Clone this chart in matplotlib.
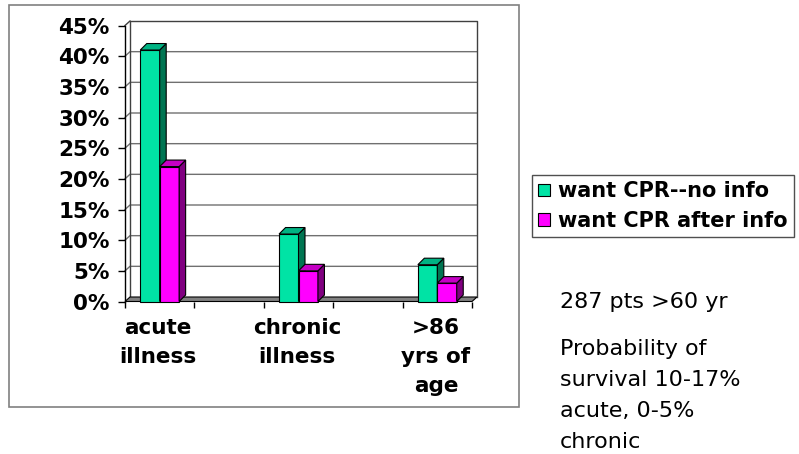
import matplotlib.pyplot as plt
from matplotlib.patches import Polygon, Patch, Rectangle

categories = ['acute\nillness', 'chronic\nillness', '>86\nyrs of\nage']
series_names = ['want CPR--no info', 'want CPR after info']
no_info = [41, 11, 6]
after_info = [22, 5, 3]
y_ticks = [0, 5, 10, 15, 20, 25, 30, 35, 40, 45]
notes_top = '287 pts >60 yr'
notes = ['Probability of', 'survival 10-17%', 'acute, 0-5%', 'chronic']

# face, top, side colours for each series
colors = [('#00E3A5', '#00B383', '#007552'),
          ('#FF00FF', '#C400C4', '#800080')]

W, H = 799, 454
fig = plt.figure(figsize=(W / 100, H / 100), dpi=100)

# outer chart frame
fig.add_artist(Rectangle((9 / W, 1 - 407 / H), 510 / W, 402 / H,
                         transform=fig.transFigure, fill=False,
                         ec='#808080', lw=1.2))

ax = fig.add_axes([125 / W, 1 - 301.5 / H, 347 / W, 276 / H])
x0, x1 = -0.25, 2.25
ax.set_xlim(x0, x1)
ax.set_ylim(0, 45)
ax.patch.set_visible(False)
for s in ['top', 'right', 'bottom']:
    ax.spines[s].set_visible(False)
ax.spines['left'].set_color('black')
ax.spines['left'].set_linewidth(1)

# pixel -> data scale for the fake depth
sx = (x1 - x0) / 347
sy = 45 / 276
wdx, wdy = 5 * sx, 4.5 * sy
bdx, bdy = 6.5 * sx, 6.5 * sy

# back wall gridlines with their side-wall diagonals
for v in y_ticks[1:-1]:
    ax.plot([x0, x0 + wdx, x1 + wdx], [v, v + wdy, v + wdy],
            color='#707070', lw=1, clip_on=False, zorder=1)
ax.plot([x0, x0 + wdx], [45, 45 + wdy], color='#404040', lw=1,
        clip_on=False, zorder=1)
ax.plot([x0 + wdx, x0 + wdx, x1 + wdx, x1 + wdx],
        [wdy, 45 + wdy, 45 + wdy, wdy],
        color='#404040', lw=1, clip_on=False, zorder=1)

# floor
ax.add_patch(Polygon([(x0, 0), (x1, 0), (x1 + wdx, wdy), (x0 + wdx, wdy)],
                     closed=True, fc='#808080', ec='black', lw=0.8,
                     clip_on=False, zorder=2))

bw = 0.14
z = 3
for i in range(len(categories)):
    for k, vals in enumerate([no_info, after_info]):
        face, top, side = colors[k]
        left = i - bw + k * bw
        v = vals[i]
        ax.bar(left + bw / 2, v, width=bw, color=face, edgecolor='black',
               lw=0.8, zorder=z, clip_on=False)
        ax.add_patch(Polygon([(left + bw, 0), (left + bw + bdx, bdy),
                              (left + bw + bdx, v + bdy), (left + bw, v)],
                             closed=True, fc=side, ec='black', lw=0.8,
                             zorder=z, clip_on=False))
        ax.add_patch(Polygon([(left, v), (left + bw, v),
                              (left + bw + bdx, v + bdy), (left + bdx, v + bdy)],
                             closed=True, fc=top, ec='black', lw=0.8,
                             zorder=z, clip_on=False))
        z += 1

ax.set_yticks(y_ticks)
ax.set_yticklabels([f'{t}%' for t in y_ticks], fontsize=15.5, fontweight='bold')
ax.tick_params(axis='y', length=5, width=1, pad=6)
ax.set_xticks([x0 + 0.5 * k for k in range(6)])
ax.set_xticklabels([])
ax.tick_params(axis='x', length=4, width=1)

for i, lab in enumerate(categories):
    ax.annotate(lab, xy=(i - 0.01, 0), xytext=(0, -12), textcoords='offset points',
                ha='center', va='top', fontsize=15.5, fontweight='bold',
                linespacing=1.55)

handles = [Patch(fc=c[0], ec='black', lw=0.8) for c in colors]
fig.legend(handles, series_names, loc='upper left',
           bbox_to_anchor=(532 / W, 1 - 175 / H), frameon=True,
           fancybox=False, edgecolor='#505050', framealpha=1,
           borderpad=0.3, borderaxespad=0, handlelength=0.55,
           handleheight=0.55, handletextpad=0.4, labelspacing=0.45,
           prop=dict(weight='bold', size=15))

fig.text(560 / W, 1 - 308 / H, notes_top, fontsize=16, va='baseline')
for line, yb in zip(notes, [355, 386, 417, 448]):
    fig.text(560 / W, 1 - yb / H, line, fontsize=16, va='baseline')

fig.savefig('out.png', dpi=100)
